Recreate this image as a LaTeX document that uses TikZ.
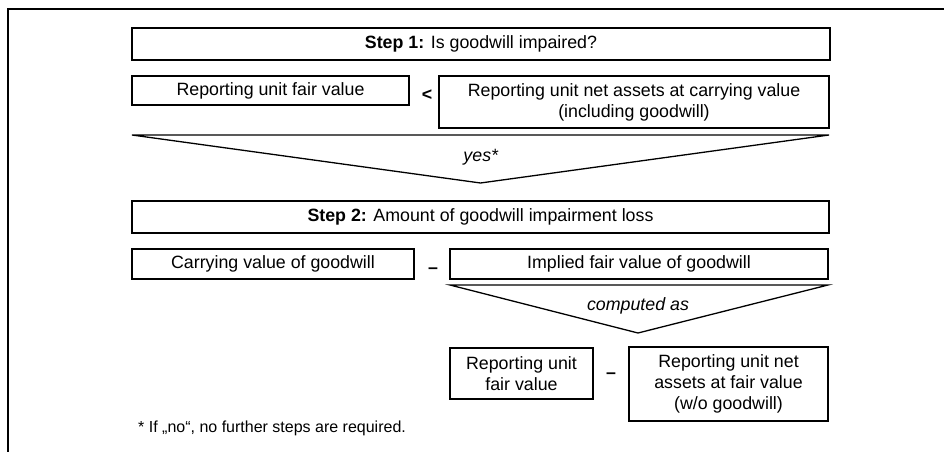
\documentclass[tikz,border=0pt]{standalone}
\usepackage{fontspec}
\setmainfont{Liberation Sans}
\begin{document}
\begin{tikzpicture}[x=1pt,y=-1pt,
  txt/.style={font=\fontsize{17.8}{21}\selectfont},
  box/.style={draw, line width=1.3pt, inner sep=0pt, align=center, txt},
  stepbox/.style={box, line width=2.8pt},
  lbl/.style={inner sep=0pt, txt},
  tri/.style={draw, line width=1.3pt, line join=miter}]
\useasboundingbox (0,0) rectangle (944,452);
\coordinate (fa) at (944,9);
\coordinate (fb) at (8,9);
\coordinate (fc) at (8,452);
\draw[line width=1.1pt] (fa) -- (fb) -- (fc);

% Step 1
\node[stepbox, minimum width=698pt, minimum height=32pt] (step1) at (481,44) {\textbf{Step 1:} Is goodwill impaired?};
\node[box, minimum width=277pt, minimum height=29pt] (ruf) at (270.5,90.5) {Reporting unit fair value};
\node[lbl] (lt) at (427,95) {\textbf{<}};
\node[box, minimum width=390pt, minimum height=52pt] (runa) at (634,102) {Reporting unit net assets at carrying value\\(including goodwill)};

\coordinate (t1a) at (132,135);
\coordinate (t1b) at (829,135);
\coordinate (t1c) at (480.5,183);
\draw[tri] (t1a) -- (t1b) -- (t1c) -- cycle;
\node[lbl] (yes) at (481,157) {\textit{yes*}};

% Step 2
\node[stepbox, minimum width=697pt, minimum height=32pt] (step2) at (480.5,217) {\textbf{Step 2:} Amount of goodwill impairment loss};
\node[box, minimum width=282pt, minimum height=30pt] (cvg) at (273,264) {Carrying value of goodwill};
\node[lbl] (m1) at (433,271) {\textbf{–}};
\node[box, minimum width=378pt, minimum height=30pt] (ifv) at (639,264) {Implied fair value of goodwill};

\coordinate (t2a) at (450,285);
\coordinate (t2b) at (828,285);
\coordinate (t2c) at (638,333);
\draw[tri] (t2a) -- (t2b) -- (t2c) -- cycle;
\node[lbl] (comp) at (638,306) {\textit{computed as}};

\node[box, minimum width=143pt, minimum height=51pt] (ruf2) at (521.5,373.5) {Reporting unit\\fair value};
\node[lbl] (m2) at (611,376) {\textbf{–}};
\node[box, minimum width=199pt, minimum height=74pt] (runa2) at (728.5,384) {Reporting unit net\\assets at fair value\\(w/o goodwill)};

\node[inner sep=0pt, anchor=base west, font=\fontsize{16}{19}\selectfont] (foot) at (138,432) {* If „no“, no further steps are required.};
\end{tikzpicture}
\end{document}
